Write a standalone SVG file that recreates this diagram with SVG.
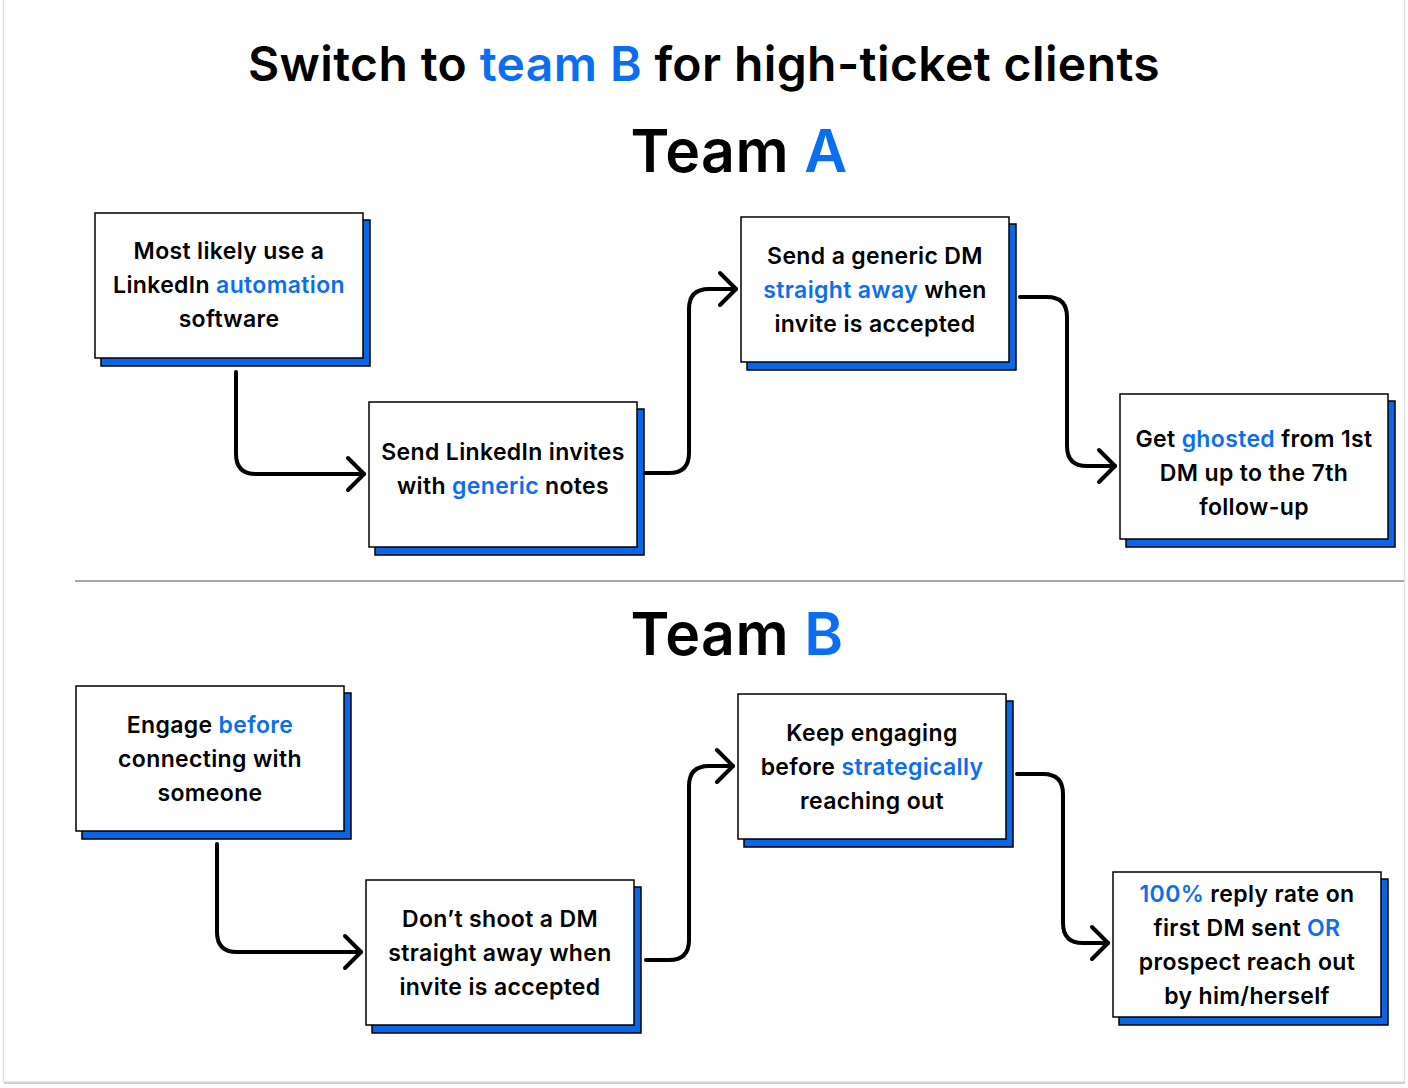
<svg xmlns="http://www.w3.org/2000/svg" width="1408" height="1088" viewBox="0 0 1408 1088">
<defs>
<style>
.t{font-family:Inter,"Noto Sans","Liberation Sans",sans-serif;font-weight:600;fill:#000;text-anchor:middle}
.box{font-size:23px;letter-spacing:0.35px}
.b{fill:#0B6EF0}
.card{fill:#fff;stroke:#000;stroke-width:1.5}
.sh{fill:#0A66E6;stroke:#000;stroke-width:1.5}
.c{fill:none;stroke:#000;stroke-width:4;stroke-linecap:round;stroke-linejoin:round}
</style>
</defs>
<rect x="0" y="0" width="1408" height="1088" fill="#fff"/>
<rect x="3.5" y="-2" width="1401" height="1084" fill="none" stroke="#e2e2e2" stroke-width="1.5"/>
<line x1="4" y1="1083" x2="1405" y2="1083" stroke="#d0d0d0" stroke-width="2"/>

<text class="t" x="704" y="81" font-size="48" letter-spacing="0.4">Switch to <tspan class="b">team B</tspan> for high-ticket clients</text>
<text class="t" x="739" y="172" font-size="59" letter-spacing="0.4">Team <tspan class="b">A</tspan></text>
<line x1="75" y1="581" x2="1404" y2="581" stroke="#8a8a8a" stroke-width="1.5"/>
<text class="t" x="737" y="655" font-size="59" letter-spacing="0.4">Team <tspan class="b">B</tspan></text>

<g id="connectors">
<path class="c" d="M236 372 V454 Q236 474 256 474 H364"/>
<path class="c" d="M348 458 L364 474 L348 490"/>
<path class="c" d="M642 473 H669 Q689 473 689 453 V309 Q689 289 709 289 H736"/>
<path class="c" d="M720 273 L736 289 L720 305"/>
<path class="c" d="M1020 297 H1047 Q1067 297 1067 317 V446 Q1067 466 1087 466 H1115"/>
<path class="c" d="M1099 450 L1115 466 L1099 482"/>
<path class="c" d="M217 844 V932 Q217 952 237 952 H361"/>
<path class="c" d="M345 936 L361 952 L345 968"/>
<path class="c" d="M646 960 H669 Q689 960 689 940 V786 Q689 766 709 766 H733"/>
<path class="c" d="M717 750 L733 766 L717 782"/>
<path class="c" d="M1017 774 H1043 Q1063 774 1063 794 V923 Q1063 943 1083 943 H1108"/>
<path class="c" d="M1092 927 L1108 943 L1092 959"/>
</g>

<g id="a1">
<rect class="sh" x="101" y="220" width="269" height="146"/>
<rect class="card" x="95" y="213" width="268" height="145"/>
<text class="t box" x="229" y="259">Most likely use a</text>
<text class="t box" x="229" y="293">LinkedIn <tspan class="b">automation</tspan></text>
<text class="t box" x="229" y="327">software</text>
</g>
<g id="a2">
<rect class="sh" x="375" y="409" width="269" height="146"/>
<rect class="card" x="369" y="402" width="268" height="145"/>
<text class="t box" x="503" y="460">Send LinkedIn invites</text>
<text class="t box" x="503" y="494">with <tspan class="b">generic</tspan> notes</text>
</g>
<g id="a3">
<rect class="sh" x="747" y="224" width="269" height="146"/>
<rect class="card" x="741" y="217" width="268" height="145"/>
<text class="t box" x="875" y="264">Send a generic DM</text>
<text class="t box" x="875" y="298"><tspan class="b">straight away</tspan> when</text>
<text class="t box" x="875" y="332">invite is accepted</text>
</g>
<g id="a4">
<rect class="sh" x="1126" y="401" width="269" height="146"/>
<rect class="card" x="1120" y="394" width="268" height="145"/>
<text class="t box" x="1254" y="447">Get <tspan class="b">ghosted</tspan> from 1st</text>
<text class="t box" x="1254" y="481">DM up to the 7th</text>
<text class="t box" x="1254" y="515">follow-up</text>
</g>

<g id="b1">
<rect class="sh" x="82" y="693" width="269" height="146"/>
<rect class="card" x="76" y="686" width="268" height="145"/>
<text class="t box" x="210" y="733">Engage <tspan class="b">before</tspan></text>
<text class="t box" x="210" y="767">connecting with</text>
<text class="t box" x="210" y="801">someone</text>
</g>
<g id="b2">
<rect class="sh" x="372" y="887" width="269" height="146"/>
<rect class="card" x="366" y="880" width="268" height="145"/>
<text class="t box" x="500" y="927">Don’t shoot a DM</text>
<text class="t box" x="500" y="961">straight away when</text>
<text class="t box" x="500" y="995">invite is accepted</text>
</g>
<g id="b3">
<rect class="sh" x="744" y="701" width="269" height="146"/>
<rect class="card" x="738" y="694" width="268" height="145"/>
<text class="t box" x="872" y="741">Keep engaging</text>
<text class="t box" x="872" y="775">before <tspan class="b">strategically</tspan></text>
<text class="t box" x="872" y="809">reaching out</text>
</g>
<g id="b4">
<rect class="sh" x="1119" y="879" width="269" height="146"/>
<rect class="card" x="1113" y="872" width="268" height="145"/>
<text class="t box" x="1247" y="902"><tspan class="b">100%</tspan> reply rate on</text>
<text class="t box" x="1247" y="936">first DM sent <tspan class="b">OR</tspan></text>
<text class="t box" x="1247" y="970">prospect reach out</text>
<text class="t box" x="1247" y="1004">by him/herself</text>
</g>
</svg>
